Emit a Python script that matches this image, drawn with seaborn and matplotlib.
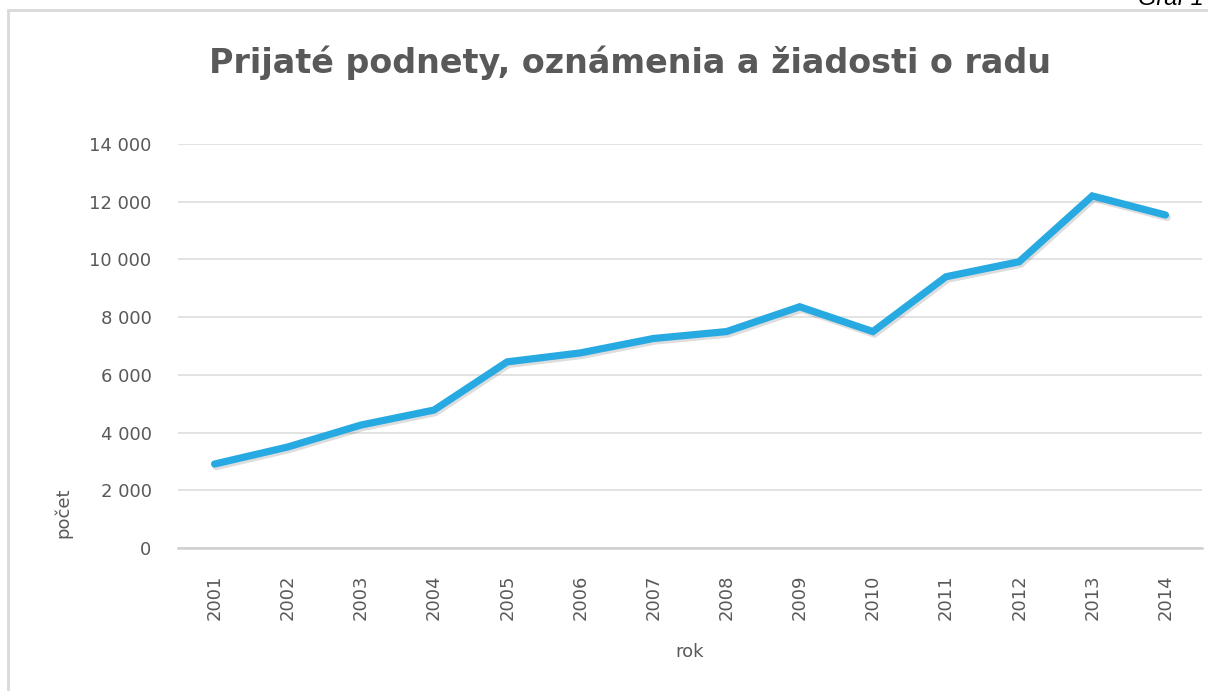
import matplotlib
matplotlib.use("Agg")
import matplotlib.pyplot as plt
import matplotlib.patheffects as pe
from matplotlib.patches import Rectangle
import seaborn as sns
import pandas as pd

years = ["2001", "2002", "2003", "2004", "2005", "2006", "2007",
         "2008", "2009", "2010", "2011", "2012", "2013", "2014"]
counts = [2910, 3500, 4260, 4780, 6450, 6760, 7260,
          7500, 8360, 7500, 9400, 9920, 12200, 11540]
y_ticks = [0, 2000, 4000, 6000, 8000, 10000, 12000, 14000]
y_tick_labels = ["0", "2 000", "4 000", "6 000", "8 000", "10 000", "12 000", "14 000"]

title = "Prijaté podnety, oznámenia a žiadosti o radu"
x_label = "rok"
y_label = "počet"

sns.set_theme(style="white")
plt.rcParams['font.family'] = ['DejaVu Sans']

TXT = "#595959"
fig = plt.figure(figsize=(12.08, 6.91), dpi=100)
ax = fig.add_axes([178/1208, 1 - 548/691, (1202-178)/1208, (548-144)/691])

df = pd.DataFrame({"rok": years, "pocet": counts})
sns.lineplot(data=df, x="rok", y="pocet", ax=ax, color="#27A9E1", linewidth=5.2,
             solid_capstyle="round", solid_joinstyle="miter", zorder=3,
             path_effects=[pe.SimpleLineShadow(offset=(1.2, -1.8), shadow_color="#666666", alpha=0.22),
                           pe.Normal()])

ax.set_xlim(-0.5, len(years) - 0.5)
ax.set_ylim(0, 14000)
ax.set_yticks(y_ticks, y_tick_labels)
ax.grid(axis="y", color="#dedede", linewidth=1.2, zorder=0)
ax.grid(axis="x", visible=False)
for s in ["left", "right", "top"]:
    ax.spines[s].set_visible(False)
ax.spines["bottom"].set_color("#d0d0d0")
ax.spines["bottom"].set_linewidth(1.8)
ax.tick_params(axis="both", length=0, colors=TXT, labelsize=13)
ax.tick_params(axis="y", pad=19)
ax.tick_params(axis="x", pad=19, labelrotation=90)
ax.set_xlabel("")
ax.set_ylabel("")

fig.text(690/1208, 1 - 652/691, x_label, ha="center", va="center", color=TXT, fontsize=13)
fig.text(63/1208, 1 - 513/691, y_label, ha="center", va="center", rotation=90, color=TXT, fontsize=13)
fig.text(630/1208, 1 - 63/691, title, ha="center", va="center", color=TXT, fontsize=24, fontweight="bold")

# chart border and cut-off caption (as in the reference, it sits at the top edge)
fig.patches.append(Rectangle((8/1208, -0.2), 1.2, 1 - 10/691 + 0.2, transform=fig.transFigure,
                             fill=False, edgecolor="#d9d9d9", linewidth=2, zorder=0))
fig.text(1138/1208, 1 - 5/691, "Graf 1", ha="left", va="baseline", color="black",
         fontsize=17, fontstyle="italic", family=["Liberation Sans", "DejaVu Sans"])

fig.savefig("out.png", dpi=100)
